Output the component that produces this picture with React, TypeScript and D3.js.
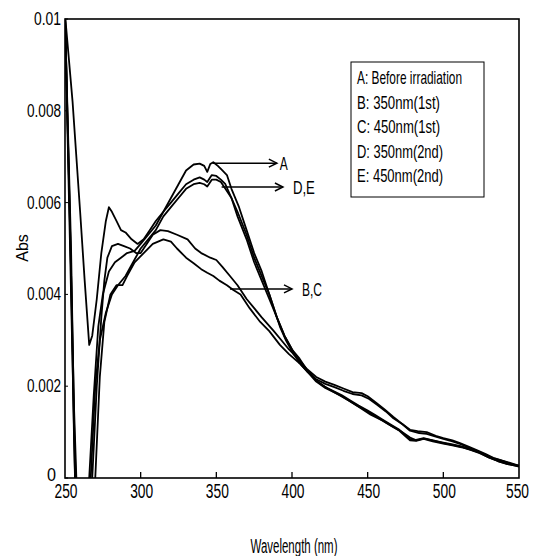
import React from "react";
import * as d3 from "d3";

type Pt = [number, number];

const xTicks = [250, 300, 350, 400, 450, 500, 550];
const xTickLabels = ["250", "300", "350", "400", "450", "500", "550"];
const yTicks = [0, 0.002, 0.004, 0.006, 0.008, 0.01];
const yTickLabels = ["0", "0.002", "0.004", "0.006", "0.008", "0.01"];

const legendLabels = [
  "A: Before irradiation",
  "B: 350nm(1st)",
  "C: 450nm(1st)",
  "D: 350nm(2nd)",
  "E: 450nm(2nd)",
];

// Curve A (before irradiation)
const curveA: Pt[] = [
  [250, 0.0101], [255, 0.0082], [260, 0.0058], [263, 0.0043], [266, 0.0029], [268, 0.0031],
  [271, 0.0039], [274, 0.0049], [277, 0.0056], [279, 0.0059], [281, 0.0058], [284, 0.0056],
  [287, 0.0054], [290, 0.00535], [294, 0.0052], [298, 0.0051], [302, 0.0052], [306, 0.0054],
  [310, 0.0056], [315, 0.0058], [320, 0.0061], [325, 0.0064], [330, 0.0067], [335, 0.00683],
  [339, 0.00685], [342, 0.0068], [344, 0.00667], [346, 0.00684], [348, 0.00688], [351, 0.0068],
  [354, 0.0067], [357, 0.0066], [360, 0.0063], [365, 0.0059], [370, 0.0054], [375, 0.0049],
  [380, 0.0045], [384, 0.0041], [388, 0.0037], [392, 0.0033], [396, 0.003], [401, 0.0027],
  [406, 0.0025], [411, 0.0023], [417, 0.0021], [423, 0.00196], [430, 0.00183], [438, 0.00168],
  [445, 0.00153], [452, 0.00138], [460, 0.00125], [466, 0.00113], [472, 0.00102], [478, 0.00088],
  [482, 0.00082], [487, 0.00086], [493, 0.00082], [500, 0.00076], [506, 0.00072], [512, 0.00068],
  [518, 0.00062], [524, 0.00055], [530, 0.00045], [536, 0.00037], [542, 0.00031], [546, 0.00028],
  [550, 0.00026],
];

const curveB: Pt[] = [
  [250, 0.0101], [253, 0.0055], [256, 0.001], [257, -0.0005], [266, -0.0005], [268, 0],
  [271, 0.002], [274, 0.0035], [276, 0.0043], [278, 0.0048], [281, 0.00505], [285, 0.0051],
  [289, 0.00505], [293, 0.005], [297, 0.0049], [300, 0.0049], [304, 0.0051], [308, 0.0053],
  [313, 0.0054], [318, 0.00538], [324, 0.0053], [331, 0.0052], [336, 0.005], [340, 0.0049],
  [346, 0.0048], [350, 0.00475], [354, 0.0046], [359, 0.0044], [364, 0.0042], [370, 0.0039],
  [375, 0.0037], [380, 0.0035], [388, 0.0032], [393, 0.003], [398, 0.0028], [404, 0.0026],
  [410, 0.00237], [416, 0.0022], [422, 0.0021], [428, 0.00203], [434, 0.00195], [440, 0.00187],
  [446, 0.00185], [450, 0.00178], [456, 0.00163], [461, 0.0015], [467, 0.00133], [472, 0.0012],
  [478, 0.00105], [483, 0.00102], [489, 0.001], [495, 0.00092], [500, 0.00087], [506, 0.00082],
  [511, 0.00076], [517, 0.00068], [522, 0.00061], [528, 0.00052], [533, 0.00044], [539, 0.00038],
  [544, 0.00033], [550, 0.00027],
];

const curveC: Pt[] = [
  [250, 0.0101], [254, 0.0045], [256, 0.0008], [257, -0.0005], [268, -0.0005], [270, 0],
  [273, 0.0022], [276, 0.0034], [280, 0.004], [284, 0.0042], [288, 0.0042], [291, 0.0044],
  [296, 0.0047], [302, 0.0049], [308, 0.0051], [315, 0.0052], [320, 0.00515], [324, 0.005],
  [330, 0.0048], [335, 0.00468], [340, 0.00455], [344, 0.00447], [348, 0.0044], [352, 0.0043],
  [357, 0.0042], [361, 0.0041], [366, 0.004], [372, 0.0037], [379, 0.0034], [385, 0.0032],
  [392, 0.0029], [398, 0.0027], [405, 0.0025], [410, 0.00232], [416, 0.00215], [422, 0.00205],
  [428, 0.00198], [434, 0.0019], [440, 0.00183], [446, 0.0018], [451, 0.00172], [456, 0.0016],
  [462, 0.00145], [467, 0.0013], [473, 0.00117], [478, 0.00103], [484, 0.00098], [489, 0.00096],
  [495, 0.0009], [500, 0.00085], [506, 0.0008], [512, 0.00073], [517, 0.00066], [523, 0.00058],
  [528, 0.0005], [534, 0.00042], [540, 0.00036], [545, 0.00031], [550, 0.00026],
];

const curveD: Pt[] = [
  [250, 0.0101], [253, 0.006], [256, 0.0015], [258, -0.0005], [264, -0.0005], [266, 0],
  [269, 0.0018], [272, 0.0033], [275, 0.004], [279, 0.0045], [283, 0.0047], [287, 0.0048],
  [291, 0.0049], [296, 0.00495], [300, 0.0051], [305, 0.0053], [310, 0.0055], [315, 0.0058],
  [320, 0.006], [325, 0.0062], [330, 0.0064], [335, 0.0065], [339, 0.00655], [342, 0.0065],
  [344, 0.00645], [347, 0.0066], [350, 0.00658], [353, 0.0065], [356, 0.0064], [360, 0.0061],
  [364, 0.0058], [370, 0.0053], [375, 0.0048], [380, 0.0044], [385, 0.004], [390, 0.0035],
  [395, 0.0031], [400, 0.0028], [405, 0.0026], [410, 0.00235], [416, 0.00212], [422, 0.00198],
  [427, 0.0019], [433, 0.0018], [438, 0.0017], [444, 0.00158], [450, 0.00147], [455, 0.00137],
  [460, 0.00127], [466, 0.00115], [471, 0.00105], [475, 0.00093], [478, 0.00084], [482, 0.00083],
  [487, 0.00087], [493, 0.00082], [500, 0.00077], [506, 0.00073], [512, 0.00069], [518, 0.00063],
  [524, 0.00056], [530, 0.00046], [536, 0.00038], [542, 0.00032], [546, 0.00029], [550, 0.00027],
];

const curveE: Pt[] = [
  [250, 0.0101], [254, 0.005], [256, 0.0012], [257.5, -0.0005], [265, -0.0005], [267, 0],
  [270, 0.002], [273, 0.003], [277, 0.0036], [281, 0.004], [285, 0.0042], [290, 0.0044],
  [295, 0.0047], [300, 0.005], [305, 0.0052], [310, 0.0054], [315, 0.0057], [320, 0.0059],
  [325, 0.0061], [330, 0.0063], [335, 0.0064], [339, 0.00643], [342, 0.0064], [344, 0.00635],
  [347, 0.0065], [350, 0.0065], [353, 0.00645], [356, 0.0063], [360, 0.0061], [364, 0.0057],
  [370, 0.0052], [375, 0.0047], [380, 0.0043], [385, 0.0039], [390, 0.0035], [395, 0.0031],
  [400, 0.0028], [405, 0.0025], [410, 0.00232], [416, 0.0021], [422, 0.00196], [427, 0.00188],
  [433, 0.00178], [438, 0.00168], [444, 0.00156], [450, 0.00145], [455, 0.00135], [460, 0.00125],
  [466, 0.00113], [471, 0.00103], [475, 0.00091], [478, 0.00082], [482, 0.00081], [487, 0.00085],
  [493, 0.0008], [500, 0.00075], [506, 0.00071], [512, 0.00067], [518, 0.00061], [524, 0.00054],
  [530, 0.00045], [536, 0.00037], [542, 0.00031], [546, 0.00028], [550, 0.00025],
];

const curves = [curveA, curveB, curveC, curveD, curveE];

// annotation arrows: label, start nm, end nm, abs level
const annoLabels = ["A", "D,E", "B,C"];
const annoStart = [347.5, 353.5, 359];
const annoEnd = [390, 394, 400];
const annoAbs = [0.00686, 0.00634, 0.00412];

const FONT = "'Liberation Sans', Arial, sans-serif";

export default function App() {
  const width = 535;
  const height = 556;
  const left = 65, right = 519, top = 19, bottom = 478;
  const x = d3.scaleLinear().domain([250, 550]).range([left, right]);
  const y = d3.scaleLinear().domain([0, 0.01]).range([bottom, top]);
  const line = d3.line<Pt>().x((d) => x(d[0])).y((d) => y(d[1]));

  const annoLabelW = [8, 22, 20];
  const lastIdx = xTicks.length - 1;

  return (
    <svg width={width} height={height} style={{ position: "absolute", left: 0, top: 0, background: "#fff" }}>
      <defs>
        <clipPath id="plotClip">
          <rect x={left} y={top} width={right - left} height={bottom - top} />
        </clipPath>
      </defs>
      <rect x={0} y={0} width={width} height={height} fill="#fff" />
      <g clipPath="url(#plotClip)">
        {curves.map((c, i) => (
          <path key={i} d={line(c) || ""} fill="none" stroke="#000" strokeWidth={1.8} strokeLinejoin="round" />
        ))}
      </g>
      <rect x={left} y={top} width={right - left} height={bottom - top} fill="none" stroke="#000" strokeWidth={1.6} />
      {xTicks.map((t, i) => (
        <g key={t}>
          {i > 0 && i < lastIdx && (
            <line x1={x(t)} x2={x(t)} y1={bottom} y2={bottom - 6} stroke="#000" strokeWidth={1.3} />
          )}
          <text x={i === lastIdx ? x(t) + 10 : x(t) + 1} y={498} fontFamily={FONT} fontSize={20}
            textAnchor={i === lastIdx ? "end" : "middle"}
            textLength={23} lengthAdjust="spacingAndGlyphs">{xTickLabels[i]}</text>
        </g>
      ))}
      {yTicks.map((t, i) => {
        const lbl = yTickLabels[i];
        const tl = lbl.length === 1 ? 9 : lbl.length === 4 ? 27 : 34;
        const rightEdge = lbl.length === 1 ? 56 : 61;
        const dy = lbl.length === 1 ? 3 : 6;
        return (
          <g key={t}>
            <line x1={left} x2={left + 3} y1={y(t)} y2={y(t)} stroke="#000" strokeWidth={1} />
            <text x={rightEdge - tl} y={y(t) + dy} fontFamily={FONT} fontSize={18}
              textLength={tl} lengthAdjust="spacingAndGlyphs">{lbl}</text>
          </g>
        );
      })}
      <text x={294} y={553} fontFamily={FONT} fontSize={20} textAnchor="middle"
        textLength={87} lengthAdjust="spacingAndGlyphs">Wavelength (nm)</text>
      <text transform="translate(28,248) rotate(-90)" fontFamily={FONT} fontSize={16} textAnchor="middle">Abs</text>

      <rect x={351} y={62} width={133} height={135} fill="#fff" stroke="#000" strokeWidth={1} />
      {legendLabels.map((l, i) => (
        <text key={l} x={357} y={84 + i * 24.5} fontFamily={FONT} fontSize={19}
          textLength={i === 0 ? 105 : i < 3 ? 83 : 86} lengthAdjust="spacingAndGlyphs">{l}</text>
      ))}

      {annoLabels.map((l, i) => {
        const x1 = x(annoStart[i]);
        const x2 = x(annoEnd[i]);
        const yy = y(annoAbs[i]);
        return (
          <g key={l}>
            <line x1={x1} x2={x2} y1={yy} y2={yy} stroke="#000" strokeWidth={1.5} />
            <path d={`M${x2 - 8},${yy - 4} L${x2},${yy} L${x2 - 8},${yy + 4}`} fill="none" stroke="#000" strokeWidth={1.5} />
            <text x={x2 + (i === 0 ? 3 : 10)} y={yy + 7} fontFamily={FONT} fontSize={19}
              textLength={annoLabelW[i]} lengthAdjust="spacingAndGlyphs">{l}</text>
          </g>
        );
      })}
    </svg>
  );
}
